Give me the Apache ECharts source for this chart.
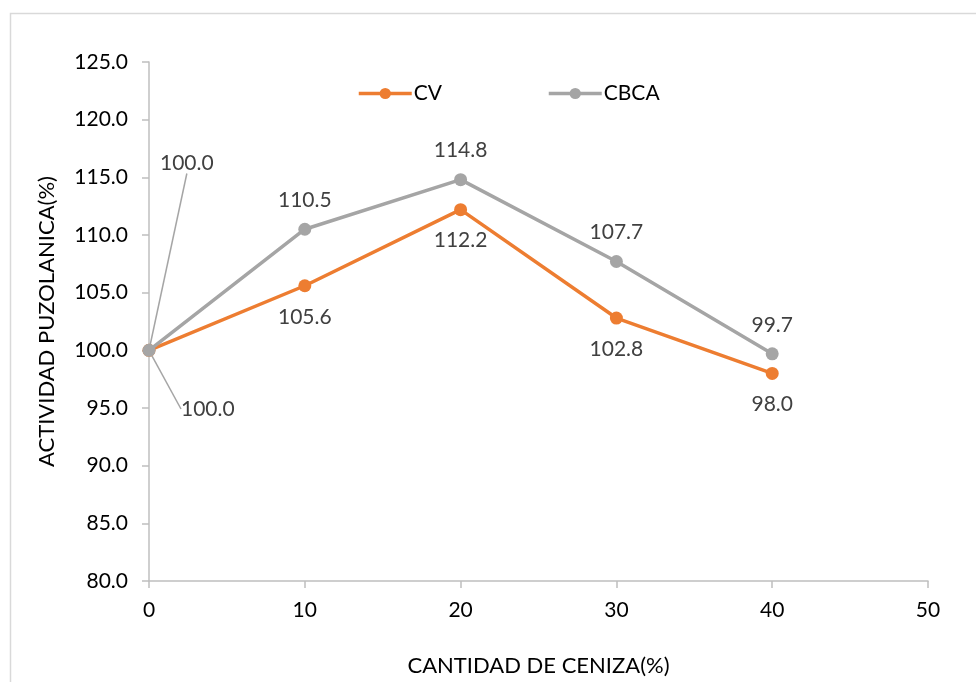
<!DOCTYPE html>
<html>
<head>
<meta charset="utf-8">
<script src="https://cdn.jsdelivr.net/npm/echarts@6/dist/echarts.min.js"></script>
<style>
  html, body { margin: 0; padding: 0; background: #fff; }
  #chart { width: 976px; height: 682px; }
</style>
</head>
<body>
<div id="chart"></div>
<script>
// Ash content (%) on the x axis
const ashContent = [0, 10, 20, 30, 40];
// Pozzolanic activity (%) for each ash type
const cvValues = [100.0, 105.6, 112.2, 102.8, 98.0];
const cbcaValues = [100.0, 110.5, 114.8, 107.7, 99.7];
const seriesNames = ['CV', 'CBCA'];

const FONT = 'Lato, "Open Sans", sans-serif';
const ORANGE = '#ED7D31';
const GRAY = '#A5A5A5';
const AXIS = '#BFBFBF';
const LEADER = { show: true, lineStyle: { color: GRAY, width: 1.5 } };

// The first point of each series has its label pulled aside with a leader line
const toItems = vals => vals.map((v, i) => {
  const item = { value: [ashContent[i], v] };
  item.labelLine = i === 0 ? LEADER : { show: false };
  return item;
});

const chart = echarts.init(document.getElementById('chart'), null, { renderer: 'canvas' });

chart.setOption({
  animation: false,
  backgroundColor: '#fff',
  textStyle: { fontFamily: FONT },
  graphic: [{
    type: 'rect',
    shape: { x: 10.5, y: 13.5, width: 1000, height: 700 },
    style: { fill: 'none', stroke: '#D9D9D9', lineWidth: 1.5 },
    silent: true,
    z: -10
  }],
  legend: {
    data: seriesNames,
    left: 352,
    top: 78,
    itemGap: 105,
    itemWidth: 53,
    itemHeight: 14,
    lineStyle: { width: 3.5 },
    textStyle: { fontSize: 21, color: '#000', fontFamily: FONT, padding: [0, 0, 0, -3] }
  },
  grid: { left: 149, right: 48, top: 62, bottom: 97, containLabel: false },
  xAxis: {
    type: 'value',
    min: 0, max: 50, interval: 10,
    name: 'CANTIDAD DE CENIZA(%)',
    nameLocation: 'middle',
    nameGap: 74,
    nameTextStyle: { fontSize: 22, color: '#000', fontFamily: FONT },
    axisLine: { show: true, lineStyle: { color: AXIS, width: 1.5 } },
    axisTick: { show: true, inside: false, length: 7, lineStyle: { color: AXIS, width: 1.5 } },
    axisLabel: { fontSize: 21, color: '#000', margin: 19, fontFamily: FONT },
    splitLine: { show: false }
  },
  yAxis: {
    type: 'value',
    min: 80, max: 125, interval: 5,
    name: 'ACTIVIDAD PUZOLANICA(%)',
    nameLocation: 'middle',
    nameGap: 91,
    nameRotate: 90,
    nameTextStyle: { fontSize: 22, color: '#000', fontFamily: FONT },
    axisLine: { show: true, lineStyle: { color: AXIS, width: 1.5 } },
    axisTick: { show: true, inside: false, length: 7, lineStyle: { color: AXIS, width: 1.5 } },
    axisLabel: {
      fontSize: 21, color: '#000', margin: 21, fontFamily: FONT,
      formatter: v => v.toFixed(1)
    },
    splitLine: { show: false }
  },
  series: [
    {
      name: 'CV',
      type: 'line',
      data: toItems(cvValues),
      symbol: 'circle',
      symbolSize: 13,
      itemStyle: { color: ORANGE },
      lineStyle: { color: ORANGE, width: 3.5 },
      label: {
        show: true,
        position: 'bottom',
        distance: 14,
        fontSize: 21,
        color: '#404040',
        fontFamily: FONT,
        formatter: p => p.value[1].toFixed(1)
      },
      labelLayout: p => p.dataIndex === 0 ? { x: 181, y: 409, align: 'left', verticalAlign: 'middle' } : {},
      z: 2
    },
    {
      name: 'CBCA',
      type: 'line',
      data: toItems(cbcaValues),
      symbol: 'circle',
      symbolSize: 13,
      itemStyle: { color: GRAY },
      lineStyle: { color: GRAY, width: 3.5 },
      label: {
        show: true,
        position: 'top',
        distance: 12,
        fontSize: 21,
        color: '#404040',
        fontFamily: FONT,
        formatter: p => p.value[1].toFixed(1)
      },
      labelLayout: p => p.dataIndex === 0 ? { x: 160, y: 163, align: 'left', verticalAlign: 'middle' } : {},
      z: 3
    }
  ]
});
</script>
</body>
</html>
